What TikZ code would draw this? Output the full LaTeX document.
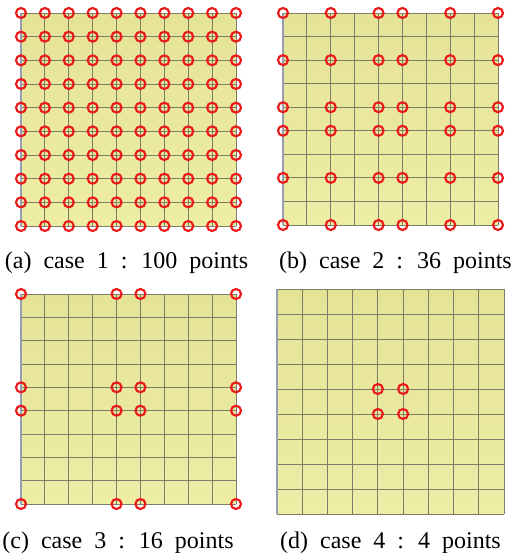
\documentclass[tikz,border=0pt]{standalone}
\usepackage{fontspec}
\setmainfont[WordSpace=2]{Liberation Serif}
\usetikzlibrary{calc}

\definecolor{meshtop}{RGB}{228,227,150}
\definecolor{meshlow}{RGB}{238,237,166}
\definecolor{meshline}{RGB}{125,125,105}
\definecolor{meshedge}{RGB}{150,158,180}
\definecolor{probered}{RGB}{235,25,25}

% mesh panel: x0, y0, width, height, indices of the probe points
\newcommand{\meshpanel}[5]{%
  \fill [top color=meshtop, bottom color=meshlow] (#1,#2) rectangle ++(#3,#4);
  \foreach \k in {0,...,9}{
    \draw [meshgrid] (#1+\k*#3/9,#2) -- ++(0,#4);
    \draw [meshgrid] (#1,#2+\k*#4/9) -- ++(#3,0);
  }
  \draw [meshgrid, color=meshedge, line width=1.4] (#1,#2) -- ++(0,#4);
  \foreach \i in {#5}{
    \foreach \j in {#5}{
      \draw [probe] (#1+\i*#3/9,#2+\j*#4/9) circle [radius=5];
    }
  }
}

\begin{document}
\begin{tikzpicture}[x=0.75pt,y=0.75pt,yscale=-1,xscale=1,
  meshgrid/.style={color=meshline, line width=0.6},
  probe/.style={color=probered, line width=1.6},
  caption/.style={anchor=base, inner sep=0, font=\fontsize{18}{20}\selectfont}]
\useasboundingbox (0,0) rectangle (522,553);

%Mesh (a)
\meshpanel{21}{13}{215}{213}{0,...,9}
%Mesh (b)
\meshpanel{283}{13}{215}{212}{0,2,4,5,7,9}
%Mesh (c)
\meshpanel{21}{294}{215}{210}{0,4,5,9}
%Mesh (d)
\meshpanel{277}{289}{227}{225}{4,5}

% Text Node
\node [caption] (capa) at (126.5,268) {(a) case 1 : 100 points};
% Text Node
\node [caption] (capb) at (395.5,268) {(b) case 2 : 36 points};
% Text Node
\node [caption] (capc) at (118,548) {(c) case 3 : 16 points};
% Text Node
\node [caption] (capd) at (390.5,548) {(d) case 4 : 4 points};

\end{tikzpicture}
\end{document}
